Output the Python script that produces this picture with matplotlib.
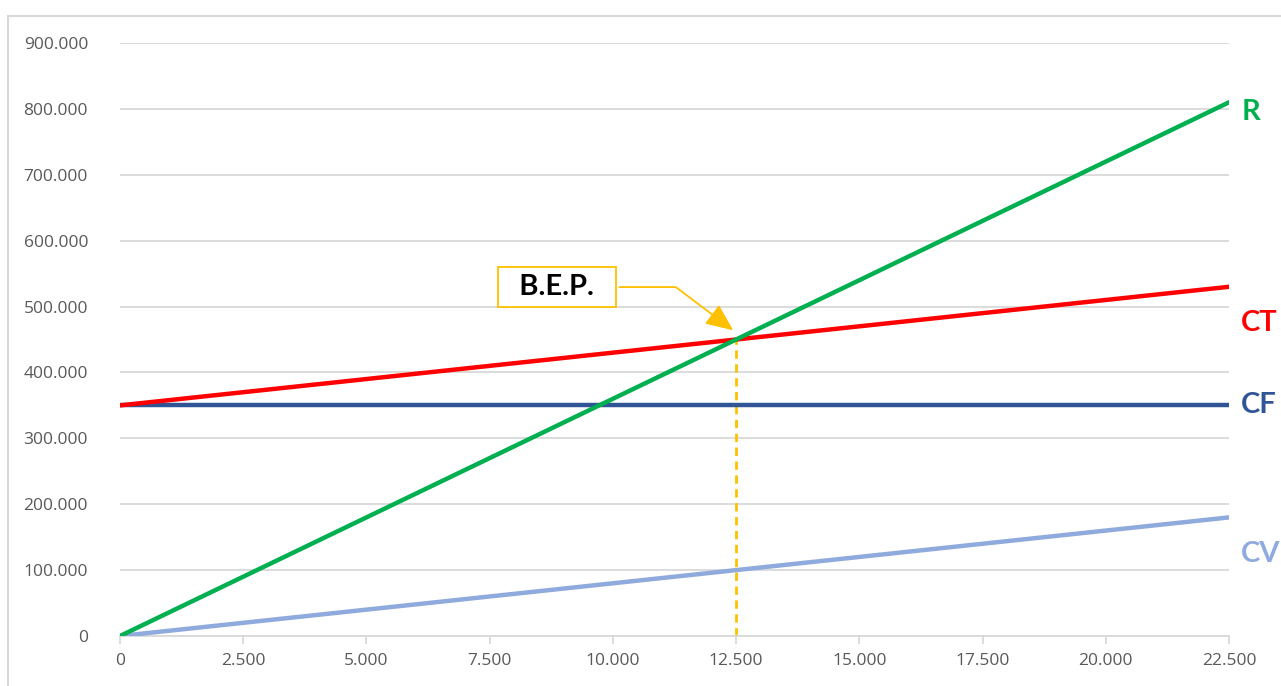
# Punto di pareggio (break even point) - ricavi e costi
import numpy as np
import matplotlib.pyplot as plt
from matplotlib.ticker import FuncFormatter, MultipleLocator
from matplotlib.patches import Rectangle

# quantities on the x axis
quantita = [0, 2500, 5000, 7500, 10000, 12500, 15000, 17500, 20000, 22500]

# series values
ricavi_R = [0, 90000, 180000, 270000, 360000, 450000, 540000, 630000, 720000, 810000]
costi_tot_CT = [350000, 370000, 390000, 410000, 430000, 450000, 470000, 490000, 510000, 530000]
costi_fissi_CF = [350000, 350000, 350000, 350000, 350000, 350000, 350000, 350000, 350000, 350000]
costi_var_CV = [0, 20000, 40000, 60000, 80000, 100000, 120000, 140000, 160000, 180000]

serie_nomi = ['R', 'CT', 'CF', 'CV']
bep_q = 12500
bep_valore = 450000

col_R = '#00B050'
col_CT = '#FF0000'
col_CF = '#2F5597'
col_CV = '#8FAADC'
col_bep = '#FFC000'

plt.rcParams['font.family'] = ['Open Sans', 'DejaVu Sans']

fig = plt.figure(figsize=(12.81, 6.86), dpi=100)
ax = fig.add_axes([120 / 1281, 50 / 686, 1109 / 1281, 593 / 686])

# outer frame of the chart area
fig.patches.append(Rectangle((8 / 1281, -0.05), 1.1, 0.05 + 670 / 686,
                             transform=fig.transFigure, fill=False,
                             edgecolor='#D9D9D9', linewidth=1.5))

ax.plot(quantita, costi_var_CV, color=col_CV, lw=3.2, zorder=3)
ax.plot(quantita, costi_fissi_CF, color=col_CF, lw=3.2, zorder=3)
ax.plot(quantita, costi_tot_CT, color=col_CT, lw=3.2, zorder=3)
ax.plot(quantita, ricavi_R, color=col_R, lw=3.2, zorder=4)

# dashed line from B.E.P. down to the axis
ax.plot([bep_q, bep_q], [0, bep_valore], color=col_bep, lw=2, ls=(0, (3, 2)), zorder=2)

ax.annotate('  B.E.P.  ', xy=(bep_q - 60, bep_valore + 14000), xytext=(8866, 529600),
            ha='center', va='center', fontsize=21, fontweight='bold', color='black',
            family=['Lato', 'DejaVu Sans'],
            bbox=dict(boxstyle='square,pad=0.25', fc='white', ec=col_bep, lw=1.3),
            arrowprops=dict(arrowstyle='-|>,head_length=0.8,head_width=0.35',
                            color=col_bep, lw=1.3, shrinkA=2, shrinkB=0,
                            connectionstyle='angle,angleA=0,angleB=143,rad=0'),
            zorder=5)

# series labels at right edge
ultimi = [ricavi_R[-1], costi_tot_CT[-1], costi_fissi_CF[-1], costi_var_CV[-1]]
offset = [-15000, -55000, 0, -55000]
colori = [col_R, col_CT, col_CF, col_CV]
for nome, v, off, c in zip(serie_nomi, ultimi, offset, colori):
    ax.text(quantita[-1] + 250, v + off, nome, color=c, fontsize=21,
            fontweight='bold', va='center', ha='left', clip_on=False,
            family=['Lato', 'DejaVu Sans'])

ax.set_xlim(0, 22500)
ax.set_ylim(0, 900000)
ax.xaxis.set_major_locator(MultipleLocator(2500))
ax.yaxis.set_major_locator(MultipleLocator(100000))
fmt = FuncFormatter(lambda v, p: f'{v:,.0f}'.replace(',', '.'))
ax.xaxis.set_major_formatter(fmt)
ax.yaxis.set_major_formatter(fmt)

ax.grid(axis='y', color='#D9D9D9', lw=1.3)
ax.set_axisbelow(True)
for s in ['top', 'right', 'left']:
    ax.spines[s].set_visible(False)
ax.spines['bottom'].set_color('#D9D9D9')
ax.spines['bottom'].set_linewidth(1.3)
ax.tick_params(axis='y', length=0, pad=23, labelsize=12.5, labelcolor='#595959')
ax.tick_params(axis='x', length=6, width=1.3, color='#D9D9D9', pad=6,
               labelsize=12.5, labelcolor='#595959')

fig.savefig('out.png', dpi=100)
